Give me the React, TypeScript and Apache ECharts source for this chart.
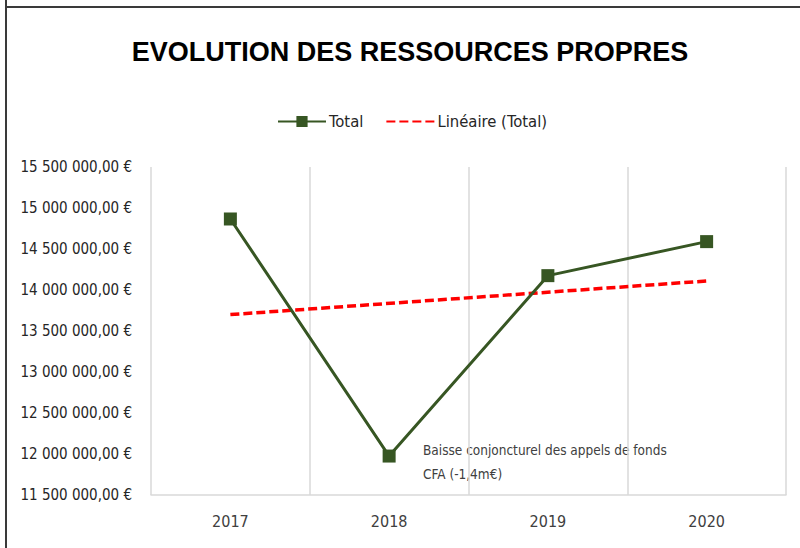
import React, { useEffect, useRef } from "react";
import * as echarts from "echarts";

const categories = ["2017", "2018", "2019", "2020"];
const totalValues = [14866000, 11975000, 14175000, 14590000];
// Linear trend ("Linéaire (Total)") read at both ends of the dashed line
const trendValues: (number | null)[] = [13700000, null, null, 14110000];
const yMin = 11500000;
const yMax = 15500000;
const yStep = 500000;
const titleText = "EVOLUTION DES RESSOURCES PROPRES";
const noteLines = ["Baisse conjoncturel des appels de fonds", "CFA (-1,4m€)"];

const FONT = '"Liberation Sans Narrow", "Arial Narrow", "DejaVu Sans Condensed", sans-serif';

function fmtEuro(v: number): string {
  const s = Math.round(v).toString().replace(/\B(?=(\d{3})+(?!\d))/g, " ");
  return s + ",00 €";
}

export default function App() {
  const ref = useRef<HTMLDivElement>(null);
  useEffect(() => {
    if (!ref.current) return;
    const chart = echarts.init(ref.current, undefined, { renderer: "svg" });
    chart.setOption({
      animation: false,
      backgroundColor: "#ffffff",
      title: {
        text: titleText,
        left: 405,
        textAlign: "center",
        top: 33,
        textStyle: {
          fontFamily: "Liberation Sans, Arial, sans-serif",
          fontWeight: "bold",
          fontSize: 27,
          color: "#000000",
        },
      },
      legend: {
        top: 108,
        left: 272,
        itemWidth: 48,
        itemHeight: 14,
        itemGap: 22,
        textStyle: { fontFamily: FONT, fontSize: 16.5, color: "#262626", padding: [0, 0, 0, -2] },
        data: [
          { name: "Total" },
          { name: "Linéaire (Total)", itemStyle: { opacity: 0 } },
        ],
      },
      grid: { left: 151, right: 14, top: 167, bottom: 53, containLabel: false },
      xAxis: {
        type: "category",
        data: categories,
        boundaryGap: true,
        axisLine: { show: true, lineStyle: { color: "#d9d9d9", width: 1.5 } },
        axisTick: { show: false },
        axisLabel: { margin: 18, fontFamily: FONT, fontSize: 16, color: "#404040" },
        splitLine: { show: true, lineStyle: { color: "#d9d9d9", width: 1.5 } },
      },
      yAxis: {
        type: "value",
        min: yMin,
        max: yMax,
        interval: yStep,
        axisLine: { show: false },
        axisTick: { show: false },
        splitLine: { show: false },
        axisLabel: {
          margin: 19,
          fontFamily: FONT,
          fontSize: 15,
          color: "#262626",
          formatter: (v: number) => fmtEuro(v),
        },
      },
      series: [
        {
          name: "Total",
          type: "line",
          data: totalValues,
          symbol: "rect",
          symbolSize: 13,
          itemStyle: { color: "#375623" },
          lineStyle: { color: "#375623", width: 3 },
          z: 3,
        },
        {
          name: "Linéaire (Total)",
          type: "line",
          data: trendValues,
          connectNulls: true,
          symbol: "none",
          itemStyle: { color: "#ff0000" },
          lineStyle: { color: "#ff0000", width: 3.5, type: [9, 4] },
          z: 2,
        },
      ],
      graphic: [
        { type: "line", shape: { x1: 6, y1: 0, x2: 6, y2: 548 }, style: { stroke: "#3a3a3a", lineWidth: 2 } },
        { type: "line", shape: { x1: 5, y1: 7, x2: 800, y2: 7 }, style: { stroke: "#3a3a3a", lineWidth: 2 } },
        {
          type: "text",
          left: 423,
          top: 438,
          style: {
            text: noteLines.join("\n"),
            fontFamily: FONT,
            fontSize: 13.5,
            lineHeight: 24,
            fill: "#404040",
          },
        },
      ],
    });
    return () => chart.dispose();
  }, []);
  return <div ref={ref} style={{ width: 800, height: 548, position: "absolute", left: 0, top: 0 }} />;
}
